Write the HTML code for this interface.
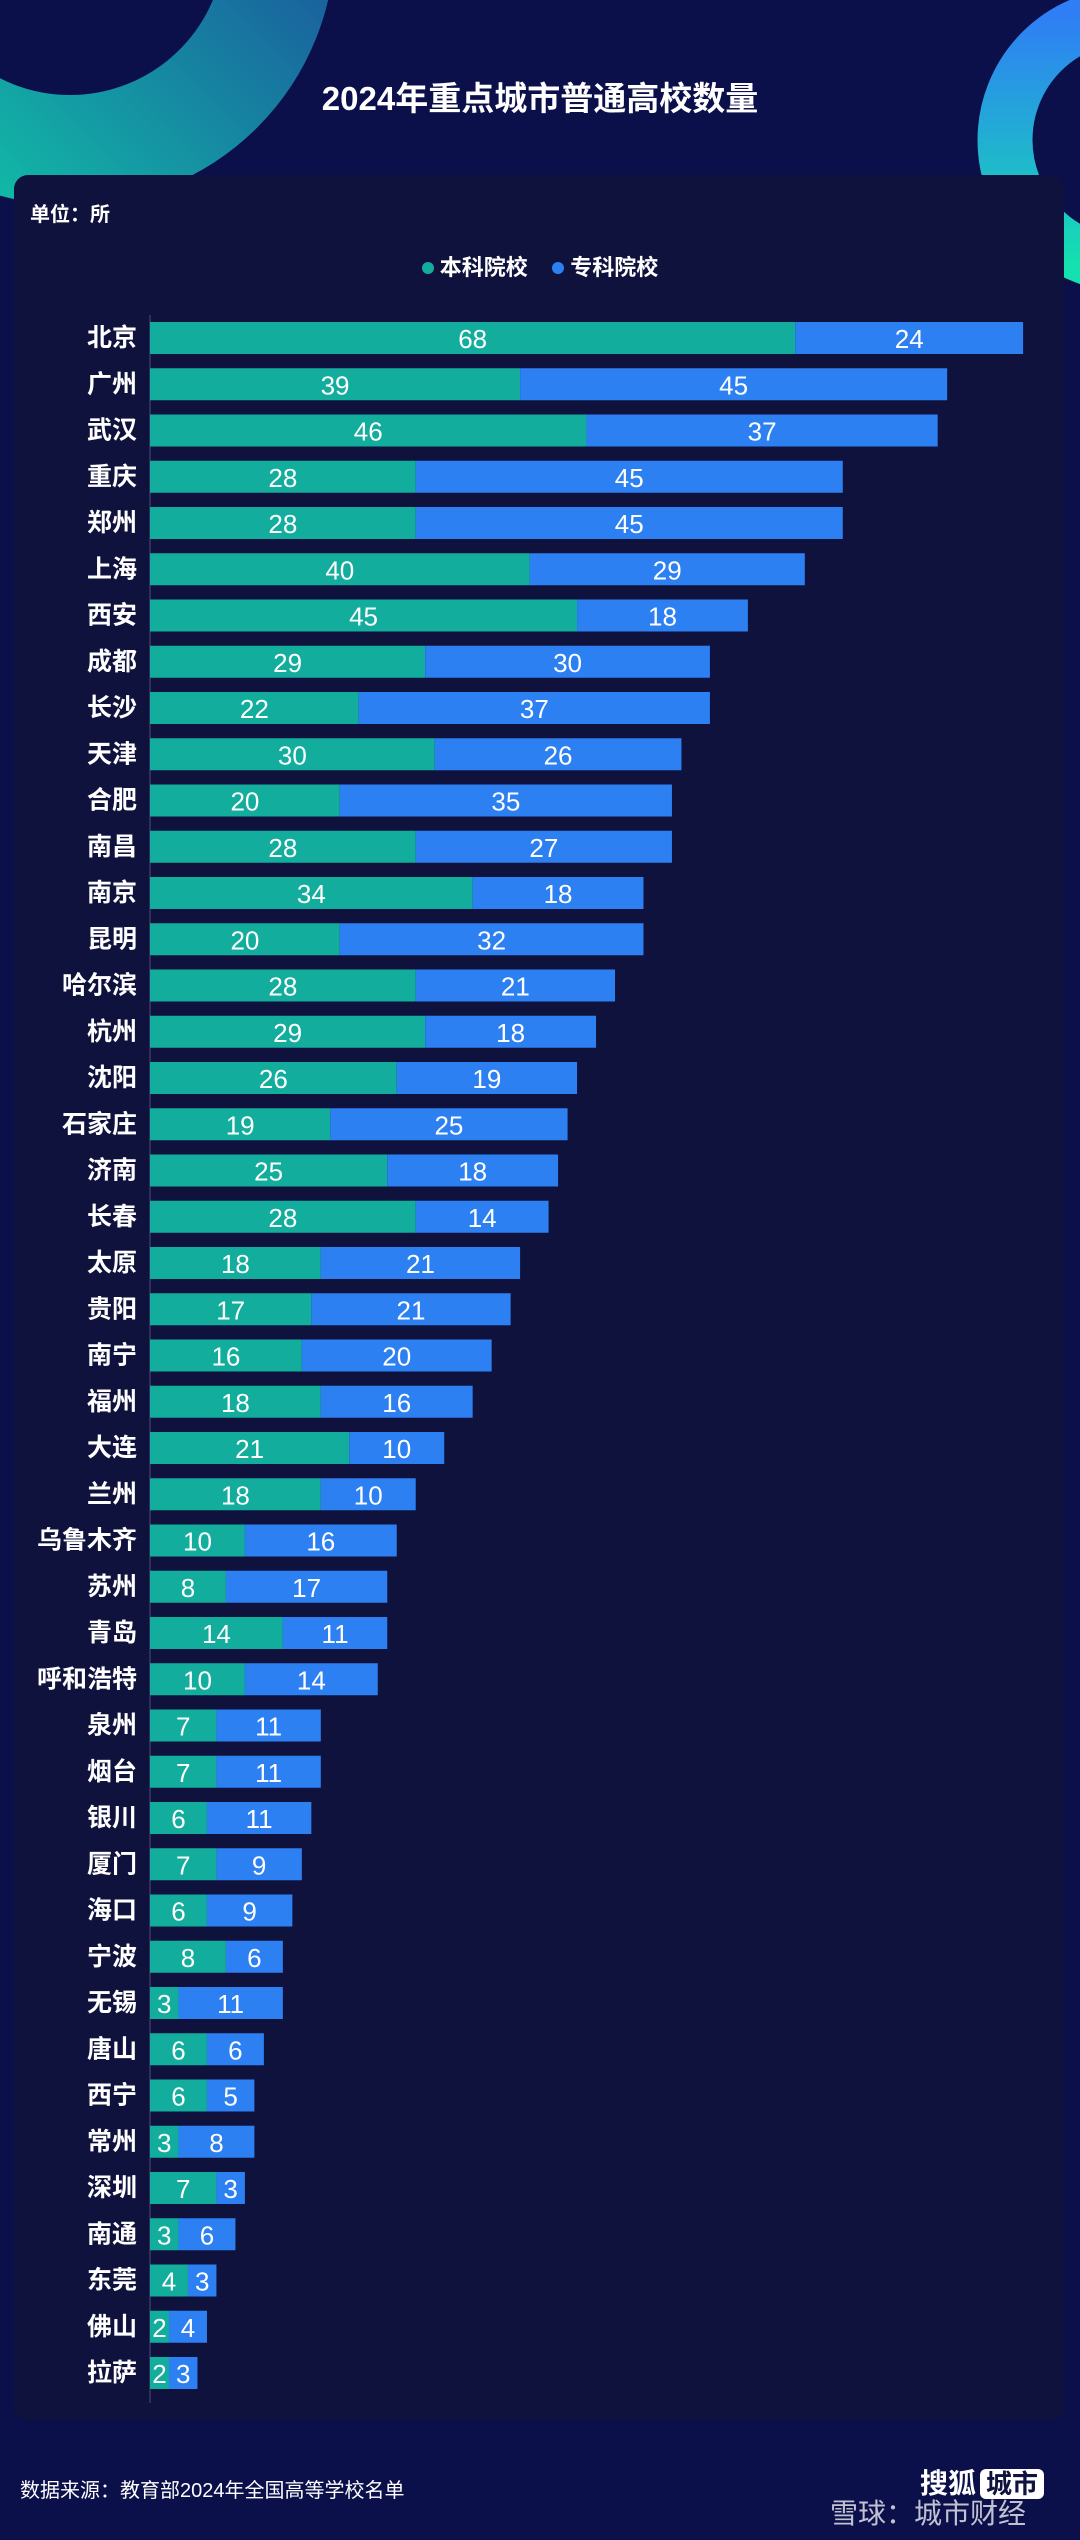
<!DOCTYPE html>
<html><head><meta charset="utf-8">
<style>
html,body{margin:0;padding:0;}
body{width:1080px;height:2540px;background:#0b0f4a;position:relative;overflow:hidden;font-family:"Liberation Sans","Noto Sans CJK SC",sans-serif;color:#fff;}
#deco{position:absolute;left:0;top:0;}
#panel{position:absolute;left:14px;top:175px;width:1050px;height:2245px;background:#10123e;border-radius:14px;}
#title{position:absolute;left:0;width:1080px;top:72px;text-align:center;font-size:33px;font-weight:bold;}
#unit{position:absolute;left:30px;top:198px;font-size:20px;font-weight:bold;}
#legend{position:absolute;left:0;width:1080px;top:250px;text-align:center;font-size:22px;font-weight:bold;}
.dot{display:inline-block;width:12px;height:12px;border-radius:6px;margin-right:6px;vertical-align:1px;}
#chart{position:absolute;left:0;top:0;}
#source{position:absolute;left:20px;top:2474px;font-size:20px;}
#logo{position:absolute;left:920px;top:2462px;font-size:28px;font-weight:bold;}
#logo span{background:#fff;color:#10133d;border-radius:6px;padding:0 6px;font-size:26px;margin-left:4px;}
#wm{position:absolute;left:830px;top:2492px;font-size:28px;color:rgba(255,255,255,0.75);}
</style></head>
<body>
<svg id="deco" width="1080" height="2540">
<defs>
<linearGradient id="g1" x1="0" y1="1" x2="1" y2="0"><stop offset="0" stop-color="#10c7a8"/><stop offset="1" stop-color="#1d3d9a"/></linearGradient>
<linearGradient id="g2" x1="0" y1="1" x2="0" y2="0"><stop offset="0" stop-color="#14e0b0"/><stop offset="1" stop-color="#2f7ef5"/></linearGradient>
</defs>
<circle cx="70" cy="-60" r="210" fill="none" stroke="url(#g1)" stroke-width="110"/>
<circle cx="1130" cy="140" r="125" fill="none" stroke="url(#g2)" stroke-width="55"/>
</svg>
<div id="panel"></div>
<div id="title">2024年重点城市普通高校数量</div>
<div id="unit">单位：所</div>
<div id="legend"><span><i class="dot" style="background:#12ad9c"></i>本科院校</span>&nbsp;&nbsp;&nbsp;&nbsp;<span><i class="dot" style="background:#2c80f2"></i>专科院校</span></div>
<svg id="chart" width="1080" height="2540"></svg>
<div id="source">数据来源：教育部2024年全国高等学校名单</div>
<div id="logo">搜狐<span>城市</span></div>
<div id="wm">雪球：城市财经</div>
<script>
const cities=["北京","广州","武汉","重庆","郑州","上海","西安","成都","长沙","天津","合肥","南昌","南京","昆明","哈尔滨","杭州","沈阳","石家庄","济南","长春","太原","贵阳","南宁","福州","大连","兰州","乌鲁木齐","苏州","青岛","呼和浩特","泉州","烟台","银川","厦门","海口","宁波","无锡","唐山","西宁","常州","深圳","南通","东莞","佛山","拉萨"];
const undergrad=[68,39,46,28,28,40,45,29,22,30,20,28,34,20,28,29,26,19,25,28,18,17,16,18,21,18,10,8,14,10,7,7,6,7,6,8,3,6,6,3,7,3,4,2,2];
const vocational=[24,45,37,45,45,29,18,30,37,26,35,27,18,32,21,18,19,25,18,14,21,21,20,16,10,10,16,17,11,14,11,11,11,9,9,6,11,6,5,8,3,6,3,4,3];
const svg=document.getElementById('chart');
const NS='http://www.w3.org/2000/svg';
const x0=150,unit=9.49,y0=338,pitch=46.25,bh=32;
const xs=v=>v*unit;
const yc=i=>y0+i*pitch;
const axis=document.createElementNS(NS,'line');
axis.setAttribute('x1',x0);axis.setAttribute('x2',x0);axis.setAttribute('y1',315);axis.setAttribute('y2',yc(cities.length-1)+30);
axis.setAttribute('stroke','#4a4f7a');axis.setAttribute('stroke-width','1');


svg.appendChild(axis);
function txt(x,y,s,anchor,size){
  const t=document.createElementNS(NS,'text');
  t.setAttribute('x',x);t.setAttribute('y',y);t.setAttribute('text-anchor',anchor);
  t.setAttribute('font-size',size);t.setAttribute('font-weight','bold');t.setAttribute('fill','#fff');
  t.setAttribute('dominant-baseline','central');
  t.setAttribute('font-family','"Liberation Sans","Noto Sans CJK SC",sans-serif');
  t.textContent=s;svg.appendChild(t);return t;
}
cities.forEach((c,i)=>{
  const y=yc(i);
  const l=txt(137,y,c,'end',25);
  
  
  const w1=xs(undergrad[i]),w2=xs(vocational[i]);
  const r1=document.createElementNS(NS,'rect');
  r1.setAttribute('x',x0);r1.setAttribute('y',y-bh/2);r1.setAttribute('width',w1);r1.setAttribute('height',bh);r1.setAttribute('fill','#12ad9c');
  
  
  svg.appendChild(r1);
  const r2=document.createElementNS(NS,'rect');
  r2.setAttribute('x',x0+w1);r2.setAttribute('y',y-bh/2);r2.setAttribute('width',w2);r2.setAttribute('height',bh);r2.setAttribute('fill','#2c80f2');
  
  
  svg.appendChild(r2);
  const v1=txt(x0+w1/2,y+1,undergrad[i],'middle',26);
  v1.setAttribute('font-weight','normal');
  
  
  const v2=txt(x0+w1+w2/2,y+1,vocational[i],'middle',26);
  v2.setAttribute('font-weight','normal');
  
  
});
</script>
</body></html>
